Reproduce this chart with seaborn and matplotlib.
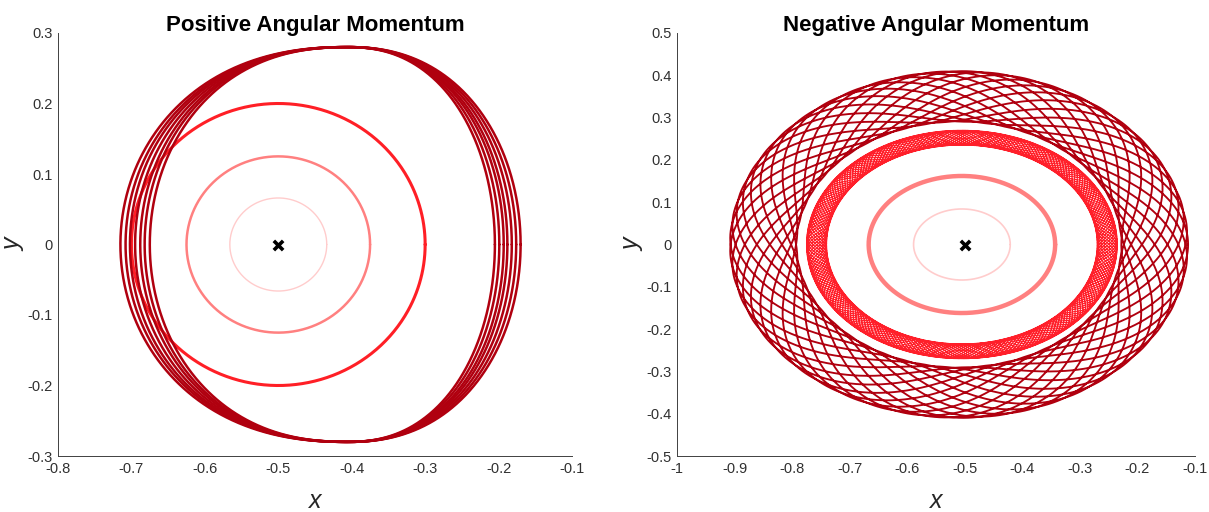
import numpy as np
import pandas as pd
import matplotlib
matplotlib.use("Agg")
import matplotlib.pyplot as plt
import seaborn as sns

sns.set_theme(style="white")
plt.rcParams['font.family'] = ['Liberation Sans', 'DejaVu Sans']

# ---- panel text -------------------------------------------------------
titles = ["Positive Angular Momentum", "Negative Angular Momentum"]
x_label = "x"
y_label = "y"

# ---- central body -----------------------------------------------------
body_x = [-0.5]
body_y = [0.0]

# ---- positive angular momentum: circular orbits ------------------------
pos_circle_radii = [0.066, 0.125, 0.200]
pos_circle_colors = ["#ffcccc", "#ff8080", "#ff1f26"]
pos_circle_widths = [1.0, 1.8, 2.2]

# outer precessing orbit: one entry per revolution
pos_loop_left_reach = [0.310, 0.303, 0.297, 0.290, 0.283, 0.277, 0.270]
pos_loop_right_reach = [0.235, 0.229, 0.223, 0.217, 0.212, 0.206, 0.200]
pos_loop_apex_x = -0.405
pos_loop_half_height = 0.280
pos_loop_flank_power = [0.86, 0.88]   # left, right (below 1 = fuller flank)
pos_loop_color = "#b0000f"
pos_loop_width = 1.8

# ---- negative angular momentum ----------------------------------------
neg_circle_radii = [0.084, 0.162]
neg_circle_colors = ["#ffcccc", "#ff8080"]
neg_circle_widths = [1.2, 3.2]
neg_centre = -0.505

# oscillating orbits forming bands: mean radius, radial amplitude,
# oscillations per revolution, number of revolutions
neg_band_centre = [-0.505, -0.510]
neg_band_radius = [0.2525, 0.340]
neg_band_amp = [0.0175, 0.058]
neg_band_freq = [12.055, 3.0625]
neg_band_revs = [18, 16]
neg_band_ystretch = [1.0, 1.03]
neg_band_colors = ["#ff1f2a", "#b0000f"]
neg_band_widths = [0.8, 1.35]

# ---- axes ticks -------------------------------------------------------
pos_xticks = [-0.8, -0.7, -0.6, -0.5, -0.4, -0.3, -0.2, -0.1]
pos_xticklabels = ["-0.8", "-0.7", "-0.6", "-0.5", "-0.4", "-0.3", "-0.2", "-0.1"]
pos_yticks = [-0.3, -0.2, -0.1, 0.0, 0.1, 0.2, 0.3]
pos_yticklabels = ["-0.3", "-0.2", "-0.1", "0", "0.1", "0.2", "0.3"]

neg_xticks = [-1.0, -0.9, -0.8, -0.7, -0.6, -0.5, -0.4, -0.3, -0.2, -0.1]
neg_xticklabels = ["-1", "-0.9", "-0.8", "-0.7", "-0.6", "-0.5", "-0.4", "-0.3", "-0.2", "-0.1"]
neg_yticks = [-0.5, -0.4, -0.3, -0.2, -0.1, 0.0, 0.1, 0.2, 0.3, 0.4, 0.5]
neg_yticklabels = ["-0.5", "-0.4", "-0.3", "-0.2", "-0.1", "0", "0.1", "0.2", "0.3", "0.4", "0.5"]


def circle_frame(cx, cy, r, n=720):
    t = np.linspace(0, 2 * np.pi, n)
    return pd.DataFrame({"x": cx + r * np.cos(t), "y": cy + r * np.sin(t)})


def draw(ax, df, color, lw):
    sns.lineplot(data=df, x="x", y="y", sort=False, estimator=None,
                 color=color, linewidth=lw, ax=ax)


fig = plt.figure(figsize=(12.09, 5.12), dpi=100)
ax1 = fig.add_axes([58 / 1209, 56 / 512, 514 / 1209, 423 / 512])
ax2 = fig.add_axes([677 / 1209, 56 / 512, 518 / 1209, 423 / 512])

# positive panel
for r, c, w in zip(pos_circle_radii, pos_circle_colors, pos_circle_widths):
    draw(ax1, circle_frame(body_x[0], body_y[0], r), c, w)
t = np.linspace(0, 2 * np.pi, 1600)
ct, st = np.cos(t), np.sin(t)
left_flank = -np.abs(ct) ** pos_loop_flank_power[0]
right_flank = np.abs(ct) ** pos_loop_flank_power[1]
for reach_l, reach_r in zip(pos_loop_left_reach, pos_loop_right_reach):
    offset = np.where(ct < 0, reach_l * left_flank, reach_r * right_flank)
    df = pd.DataFrame({
        "x": pos_loop_apex_x + offset,
        "y": pos_loop_half_height * st,
    })
    draw(ax1, df, pos_loop_color, pos_loop_width)

# negative panel
for r, c, w in zip(neg_circle_radii, neg_circle_colors, neg_circle_widths):
    draw(ax2, circle_frame(neg_centre, body_y[0], r), c, w)
for cx, R, a, f, n, sy, c, w in zip(neg_band_centre, neg_band_radius, neg_band_amp,
                                     neg_band_freq, neg_band_revs, neg_band_ystretch,
                                     neg_band_colors, neg_band_widths):
    tt = np.linspace(0, 2 * np.pi * n, int(900 * n))
    rr = R + a * np.cos(f * tt)
    df = pd.DataFrame({"x": cx + rr * np.cos(tt), "y": sy * rr * np.sin(tt)})
    draw(ax2, df, c, w)

for ax in (ax1, ax2):
    sns.scatterplot(x=body_x, y=body_y, marker="x", s=45, linewidth=2.6,
                    color="black", zorder=5, ax=ax)

setups = [
    (ax1, titles[0], (-0.8, -0.1), (-0.3, 0.3), pos_xticks, pos_xticklabels, pos_yticks, pos_yticklabels),
    (ax2, titles[1], (-1.0, -0.1), (-0.5, 0.5), neg_xticks, neg_xticklabels, neg_yticks, neg_yticklabels),
]
for ax, ttl, xl, yl, xt, xtl, yt, ytl in setups:
    ax.set_xlim(*xl)
    ax.set_ylim(*yl)
    ax.set_xticks(xt)
    ax.set_xticklabels(xtl)
    ax.set_yticks(yt)
    ax.set_yticklabels(ytl)
    ax.set_title(ttl, fontsize=16, fontweight="bold", color="black", pad=1.5)
    ax.set_xlabel(x_label, fontsize=18, fontstyle="italic", labelpad=10)
    ax.set_ylabel(y_label, fontsize=18, fontstyle="italic", labelpad=1)
    for side in ("top", "right"):
        ax.spines[side].set_visible(False)
    for side in ("left", "bottom"):
        ax.spines[side].set_color("#404040")
        ax.spines[side].set_linewidth(0.7)
    ax.tick_params(direction="in", length=4, width=0.7, colors="#404040",
                   labelsize=10.5, labelcolor="#303030", pad=4)
    ax.set_facecolor("white")

fig.savefig("out.png", dpi=100, facecolor="white")
